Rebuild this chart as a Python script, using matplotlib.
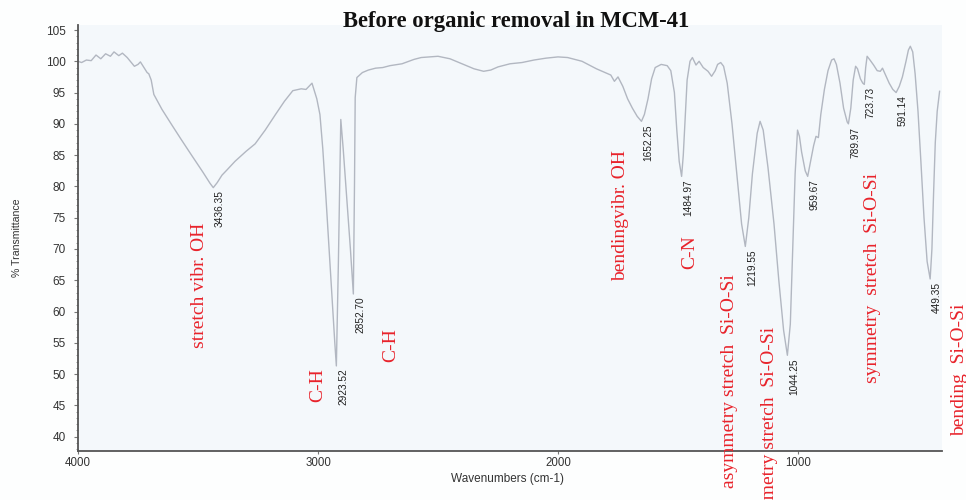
import numpy as np
import matplotlib
matplotlib.use("Agg")
import matplotlib.pyplot as plt
from matplotlib.ticker import MultipleLocator, FixedLocator

# ---- data ----
wavenumber = [
    4000, 3985, 3965, 3945, 3925, 3905, 3885, 3865, 3850, 3830, 3815, 3795, 3780, 3765,
    3750, 3740, 3725, 3712, 3705, 3695, 3684, 3650, 3612, 3570, 3527, 3480, 3450, 3436.35,
    3420, 3400, 3380, 3346, 3300, 3262, 3220, 3177, 3140, 3105, 3070, 3050, 3025, 3005,
    2992, 2980, 2967, 2946, 2930, 2923.52, 2915, 2905, 2895, 2880, 2865, 2852.70, 2848,
    2845, 2838, 2815, 2790, 2760, 2730, 2700, 2650, 2600, 2570, 2500, 2450, 2400, 2350,
    2310, 2280, 2250, 2200, 2150, 2100, 2050, 2000, 1960, 1930, 1900, 1870, 1840, 1810,
    1780, 1765, 1750, 1730, 1710, 1690, 1670, 1652.25, 1640, 1625, 1610, 1595, 1570, 1545,
    1530, 1515, 1505, 1495, 1484.97, 1478, 1470, 1462, 1450, 1440, 1425, 1412, 1395, 1375,
    1360, 1345, 1335, 1322, 1310, 1295, 1275, 1255, 1235, 1219.55, 1205, 1190, 1170, 1158,
    1145, 1125, 1100, 1080, 1060, 1044.25, 1032, 1022, 1012, 1002, 994, 985, 970, 959.67,
    950, 935, 925, 915, 905, 890, 875, 860, 850, 840, 825, 810, 795, 789.97, 780, 770, 760,
    752, 740, 730, 723.73, 718, 712, 700, 685, 670, 657, 648, 635, 620, 605, 591.14, 578,
    565, 550, 540, 532, 522, 512, 500, 488, 475, 462, 449.35, 442, 435, 428, 420, 410,
]
transmittance = [
    100.0, 99.8, 100.2, 100.1, 101.0, 100.4, 101.2, 100.8, 101.5, 100.9, 101.3, 100.6, 99.9, 99.2,
    99.5, 99.9, 99.0, 98.2, 98.0, 97.0, 94.7, 92.3, 90.0, 87.5, 85.0, 82.3, 80.5, 79.8,
    80.6, 81.8, 82.6, 84.0, 85.6, 86.8, 89.0, 91.5, 93.6, 95.3, 95.6, 95.5, 96.5, 94.0,
    91.5, 86.0, 78.3, 65.0, 55.0, 51.3, 68.0, 90.7, 86.0, 78.0, 70.0, 62.8, 80.0,
    94.2, 97.4, 98.2, 98.6, 98.9, 99.0, 99.3, 99.6, 100.3, 100.6, 100.8, 100.4, 99.6, 98.8,
    98.4, 98.6, 99.1, 99.6, 99.8, 100.2, 100.5, 100.7, 100.6, 100.3, 100.0, 99.4, 98.8, 98.3,
    97.8, 96.8, 97.5, 96.0, 94.0, 92.5, 91.2, 90.4, 91.5, 94.0, 97.2, 99.0, 99.5, 99.3,
    98.5, 95.0, 89.0, 84.0, 81.6, 85.0, 91.0, 97.0, 100.0, 100.6, 99.4, 100.0, 99.0, 98.4,
    97.6, 98.5, 99.5, 99.8, 99.2, 96.5, 90.0, 82.0, 74.0, 70.4, 75.0, 82.0, 88.5, 90.4,
    89.0, 83.0, 74.0, 65.0, 57.0, 53.0, 58.0, 70.0, 82.0, 89.0, 88.0, 85.5, 82.5, 81.6,
    83.5, 86.5, 88.0, 87.8, 91.5, 95.5, 98.5, 100.2, 100.4, 99.5, 96.5, 92.5, 90.3, 90.0, 92.5, 97.0, 99.2,
    98.8, 97.2, 96.5, 96.3, 99.0, 100.8, 100.2, 99.4, 98.5, 98.4, 98.9, 97.8, 96.5, 95.5, 95.0, 96.0,
    97.5, 100.0, 101.8, 102.4, 101.5, 98.0, 92.0, 84.0, 75.0, 68.0, 65.2, 70.0, 79.0, 87.0, 92.0, 95.2,
]

peak_positions = [3436.35, 2923.52, 2852.70, 1652.25, 1484.97, 1219.55,
                  1044.25, 959.67, 789.97, 723.73, 591.14, 449.35]

band_labels = [
    "stretch vibr. OH", "C-H", "C-H", "bendingvibr. OH", "C-N",
    "asymmetry stretch  Si-O-Si", "symmetry stretch  Si-O-Si",
    "symmetry  stretch  Si-O-Si", "bending  Si-O-Si",
]

y_ticks = [40, 45, 50, 55, 60, 65, 70, 75, 80, 85, 90, 95, 100, 105]
x_ticks = [4000, 3000, 2000, 1000]

title = "Before organic removal in MCM-41"
x_label = "Wavenumbers (cm-1)"
y_label = "% Transmittance"

# ---- figure ----
fig = plt.figure(figsize=(9.66, 5.0), dpi=100, facecolor="#fdfefe")
ax = fig.add_axes([78 / 966, 1 - 451 / 500, (942 - 78) / 966, (451 - 25) / 500])
ax.set_facecolor("#f4f8fb")

ax.plot(wavenumber, transmittance, color="#b2b7c1", lw=1.0)

ax.set_xlim(4000, 400)
ax.set_ylim(37.7, 105.8)

for s in ("top", "right"):
    ax.spines[s].set_visible(False)
for s in ("left", "bottom"):
    ax.spines[s].set_color("#555555")
    ax.spines[s].set_linewidth(1.3)

ax.xaxis.set_major_locator(FixedLocator(x_ticks))
ax.yaxis.set_major_locator(FixedLocator(y_ticks))
ax.yaxis.set_minor_locator(MultipleLocator(1))
ax.tick_params(axis="y", which="major", length=3, width=0.8, color="#777777",
               labelsize=8.5, labelcolor="#333333", pad=6)
ax.tick_params(axis="y", which="minor", length=1.6, width=0.6, color="#888888")
ax.tick_params(axis="x", which="major", length=2, width=0.8, color="#777777",
               labelsize=8.3, labelcolor="#333333", pad=2)
for lab in ax.get_xticklabels() + ax.get_yticklabels():
    lab.set_fontfamily("Liberation Sans")

fig.text(516 / 966, 1 - 22 / 500, title, ha="center", va="center",
         fontsize=16.3, fontweight="bold", family="Liberation Serif", color="#111111")
fig.text(508 / 966, 1 - 479 / 500, x_label, ha="center", va="center",
         fontsize=8.5, family="Liberation Sans", color="#333333")
fig.text(17 / 966, 1 - 238 / 500, y_label, ha="center", va="center", rotation=90,
         fontsize=7.6, family="Liberation Sans", color="#333333")

# peak wavenumber labels
wn_asc = np.array(wavenumber)[::-1]
tr_asc = np.array(transmittance)[::-1]
for p in peak_positions:
    t = np.interp(p, wn_asc, tr_asc)
    ax.annotate(f"{p:.2f}", xy=(p, t), xytext=(1.2, -2), textcoords="offset points",
                rotation=90, ha="left", va="top", fontsize=7.3,
                family="Liberation Sans", color="#222222")

# red band assignment labels (x in wavenumber, y in %T)
red = "#e8232b"
band_pos = [
    (3494, 64.2, "center"), (3000, 48.2, "center"), (2696, 54.6, "center"),
    (1740, 75.4, "center"), (1450, 69.5, "center"), (1285, 48.9, "center"),
    (1120, 57.6, "top"), (690, 65.3, "center"), (326, 61.2, "top"),
]
for (x, y, va), txt in zip(band_pos, band_labels):
    ax.text(x, y, txt, rotation=90, ha="center", va=va, fontsize=14,
            family="Liberation Serif", color=red, clip_on=False)

fig.savefig("out.png", dpi=100, facecolor=fig.get_facecolor())
